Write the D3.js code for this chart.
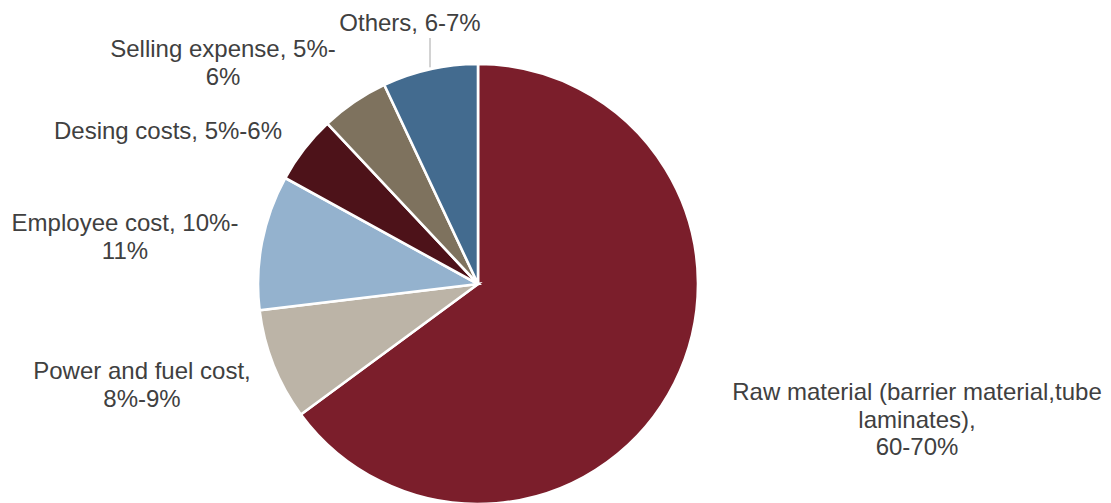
<!DOCTYPE html>
<html>
<head>
<meta charset="utf-8">
<script src="https://cdn.jsdelivr.net/npm/d3@7"></script>
<style>
  html, body { margin: 0; padding: 0; background: #ffffff; }
  svg { display: block; }
  text { font-family: "Liberation Sans", Arial, sans-serif; }
</style>
</head>
<body>
<svg id="chart" width="1111" height="503"></svg>
<script>
// Cost components, clockwise from 12 o'clock
const categories = [
  "Raw material",
  "Power and fuel cost",
  "Employee cost",
  "Desing costs",
  "Selling expense",
  "Others"
];
const shares = [64.9, 8.2, 9.9, 5.0, 5.0, 7.0];
const labelLines = [
  ["Raw material (barrier material,tube", "laminates),", "60-70%"],
  ["Power and fuel cost,", "8%-9%"],
  ["Employee cost, 10%-", "11%"],
  ["Desing costs, 5%-6%"],
  ["Selling expense, 5%-", "6%"],
  ["Others, 6-7%"]
];
const colors = ["#7b1e2b", "#bcb4a7", "#94b2ce", "#4d1219", "#7e725e", "#436b8f"];

// Label placement (centre x, first baseline y) for each slice
const labelPos = [
  [917, 400],
  [142, 379],
  [125, 231],
  [168, 139],
  [223, 57],
  [410, 31]
];
const lineStep = 27.5;

const svg = d3.select("#chart");
const cx = 478, cy = 284, radius = 220;

const data = categories.map((c, i) => ({ name: c, value: shares[i], lines: labelLines[i], color: colors[i], pos: labelPos[i] }));

const pie = d3.pie().sort(null).value(d => d.value);
const arc = d3.arc().innerRadius(0).outerRadius(radius);
const arcs = pie(data);

const g = svg.append("g").attr("transform", `translate(${cx},${cy})`);

g.selectAll("path.slice")
  .data(arcs)
  .join("path")
  .attr("class", "slice")
  .attr("d", arc)
  .attr("fill", d => d.data.color)
  .attr("stroke", "#ffffff")
  .attr("stroke-width", 2.6)
  .attr("stroke-linejoin", "miter");

// Leader line for the small top slice whose label sits above the pie
const others = arcs[arcs.length - 1];
const mid = (others.startAngle + others.endAngle) / 2;
const ex = cx + radius * Math.sin(mid);
const ey = cy - radius * Math.cos(mid);
svg.append("line")
  .attr("x1", ex).attr("y1", ey - 2)
  .attr("x2", ex).attr("y2", 38)
  .attr("stroke", "#a6a6a6")
  .attr("stroke-width", 1);

// Slice labels
const labels = svg.selectAll("text.lbl")
  .data(arcs)
  .join("text")
  .attr("class", "lbl")
  .attr("text-anchor", "middle")
  .attr("font-size", 24)
  .attr("fill", "#404040")
  .attr("x", d => d.data.pos[0])
  .attr("y", d => d.data.pos[1]);

labels.selectAll("tspan")
  .data(d => d.data.lines.map(l => ({ text: l, x: d.data.pos[0] })))
  .join("tspan")
  .attr("x", t => t.x)
  .attr("dy", (t, i) => i === 0 ? 0 : lineStep)
  .text(t => t.text);
</script>
</body>
</html>
